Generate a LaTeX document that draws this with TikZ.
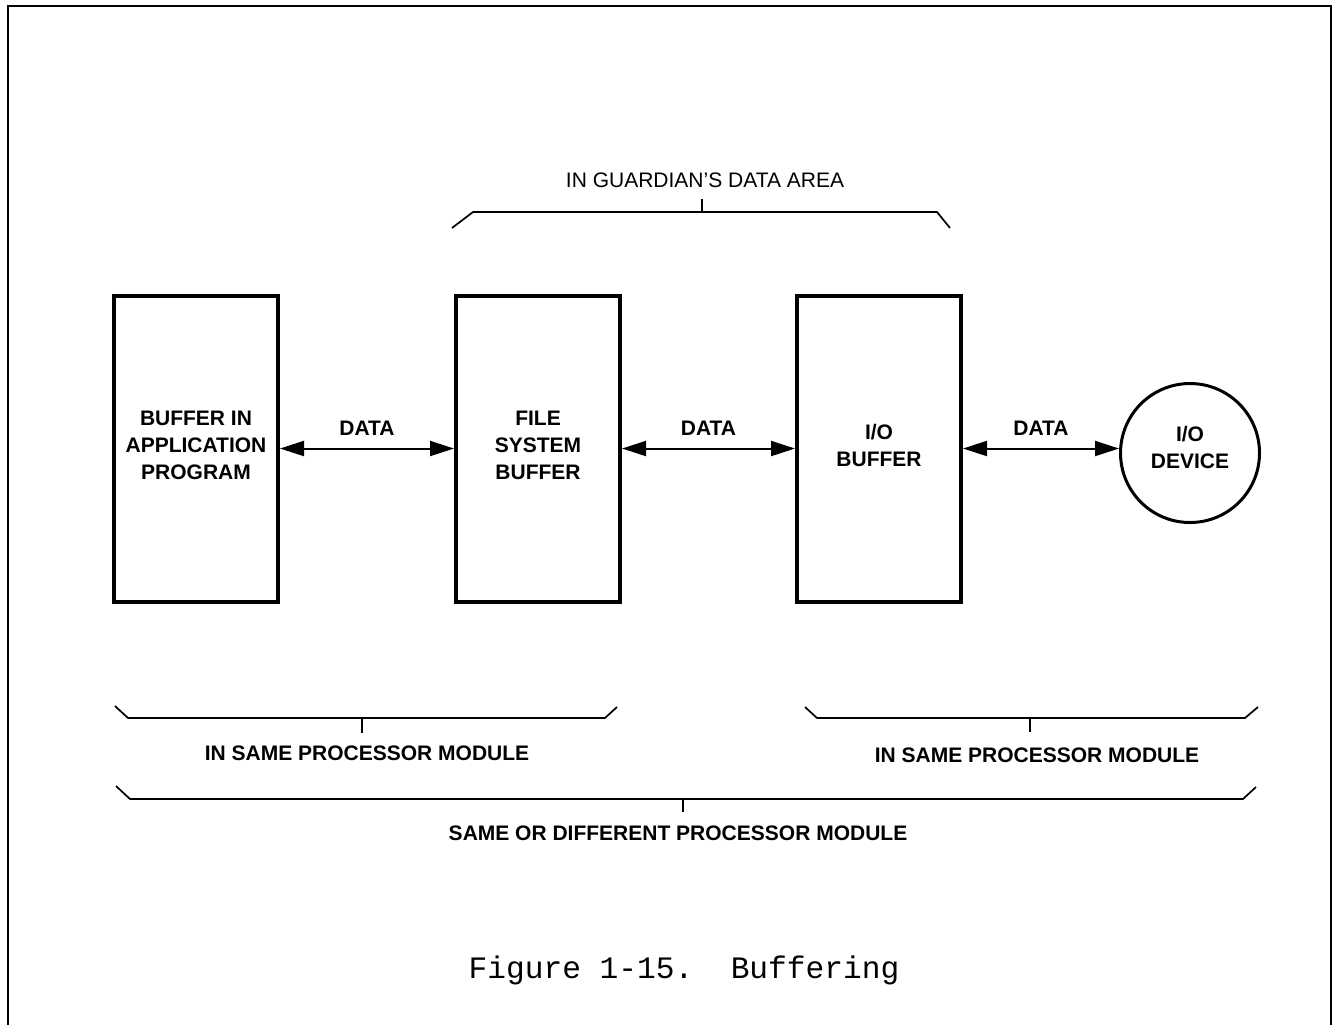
\documentclass[tikz,border=0pt]{standalone}
\usepackage{fontspec}
\setmainfont{Liberation Sans}
\setmonofont{Liberation Mono}
\usetikzlibrary{arrows.meta, positioning}

\begin{document}
\begin{tikzpicture}[
    x=0.5pt, y=-0.5pt,
    buffer/.style={rectangle, draw, line width=2pt, minimum width=82pt, minimum height=153pt, align=center, inner sep=0pt, text depth=3pt, font=\bfseries\fontsize{10.5}{13.5}\selectfont},
    device/.style={circle, draw, line width=1.5pt, minimum size=69.5pt, align=center, inner sep=0pt, text depth=6pt, font=\bfseries\fontsize{10.5}{13.5}\selectfont},
    flow/.style={{Triangle[length=12pt,width=7.5pt]}-{Triangle[length=12pt,width=7.5pt]}, line width=1pt},
    tag/.style={inner sep=0pt, font=\bfseries\fontsize{10.5}{13.5}\selectfont},
    area/.style={inner sep=0pt, font=\fontsize{10.5}{13.5}\selectfont},
    brace/.style={line width=0.85pt}
]
    \useasboundingbox (0,0) rectangle (1338,1025);

    % Frame
    \draw[line width=1pt] (8,1025) -- (8,6) -- (1331,6) -- (1331,1025);

    % Buffers
    \node[buffer] (app) at (196,448.5) {BUFFER IN\\APPLICATION\\PROGRAM};
    \node[buffer, right=87pt of app] (fs) {FILE\\SYSTEM\\BUFFER};
    \node[buffer, right=86.5pt of fs] (io) {I/O\\BUFFER};
    \node[device, right=78pt of io, yshift=-2.25pt] (dev) {I/O\\DEVICE};

    % Arrows
    \draw[flow] (app) -- node[tag, above=6pt] (d1) {DATA} (fs);
    \draw[flow] (fs) -- node[tag, above=6pt] (d2) {DATA} (io);
    \draw[flow] (io.east) -- node[tag, above=6pt] (d3) {DATA} (io.east -| dev.west);

    % Guardian's data area
    \node[area] (guard) at (705,180) {IN GUARDIAN'S DATA AREA};
    \draw[brace] (452,228) -- (473,212) -- (937,212) -- (950,228);
    \draw[brace] (702,212) -- (702,199);

    % Processor modules
    \node[tag] (same1) at (367,753) {IN SAME PROCESSOR MODULE};
    \draw[brace] (115,706) -- (128,718) -- (605,718) -- (617,707);
    \draw[brace] (362,718) -- (362,733);

    \node[tag] (same2) at (1037,755) {IN SAME PROCESSOR MODULE};
    \draw[brace] (805,707) -- (817,718) -- (1245,718) -- (1258,707);
    \draw[brace] (1030,718) -- (1030,732);

    \node[tag] (diff) at (678,833) {SAME OR DIFFERENT PROCESSOR MODULE};
    \draw[brace] (116,786) -- (130,799) -- (1243,799) -- (1256,787);
    \draw[brace] (683,799) -- (683,812);

    % Caption
    \node[font=\ttfamily\fontsize{15.6}{18}\selectfont] (cap) at (684,970) {Figure 1-15.\ \ Buffering};

\end{tikzpicture}
\end{document}
